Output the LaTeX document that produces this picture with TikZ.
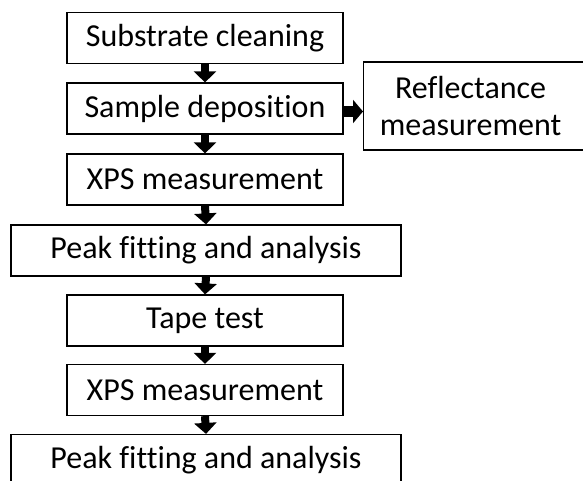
\documentclass[tikz,border=0pt]{standalone}
\usepackage{fontspec}
\setmainfont{Carlito}[Ligatures=NoCommon]
\usetikzlibrary{arrows.meta}
\begin{document}
\begin{tikzpicture}[x=1pt,y=-1pt,
  stepbox/.style={draw=black, line width=1.2pt, fill=white, inner sep=0pt, minimum height=51pt, font=\fontsize{32}{37}\selectfont},
  narrow/.style={stepbox, minimum width=276pt},
  wide/.style={stepbox, minimum width=390pt},
  varrow/.style={line width=8pt, -{Triangle[width=22pt,length=11pt]}},
  harrow/.style={line width=11pt, -{Triangle[width=23pt,length=10pt]}}]
\useasboundingbox (0,0) rectangle (583,480);
\clip (0,0) rectangle (583,480);
\node[narrow] (b1) at (205,38) {Substrate cleaning};
\node[narrow] (b2) at (205,108.5) {Sample deposition};
\node[narrow] (b3) at (205,179.5) {XPS measurement};
\node[wide]   (b4) at (206,250.5) {Peak fitting and analysis};
\node[narrow] (b5) at (205,320.5) {Tape test};
\node[narrow] (b6) at (205,390) {XPS measurement};
\node[wide]   (b7) at (206,460) {Peak fitting and analysis};
\node[stepbox, anchor=west, minimum height=88pt] (r) at (363,106)
  {\parbox{214pt}{\centering Reflectance\\ measurement}\hspace*{30pt}};
\draw[varrow] (b1.south) -- (b2.north);
\draw[varrow] (b2.south) -- (b3.north);
\draw[varrow] (b3.south) -- (b4.north);
\draw[varrow] (b4.south) -- (b5.north);
\draw[varrow] (b5.south) -- (b6.north);
\draw[varrow] (b6.south) -- (b7.north);
\draw[harrow] ([yshift=-3pt]b2.east) -- ([yshift=-3pt]b2.east -| r.west);
\end{tikzpicture}
\end{document}
